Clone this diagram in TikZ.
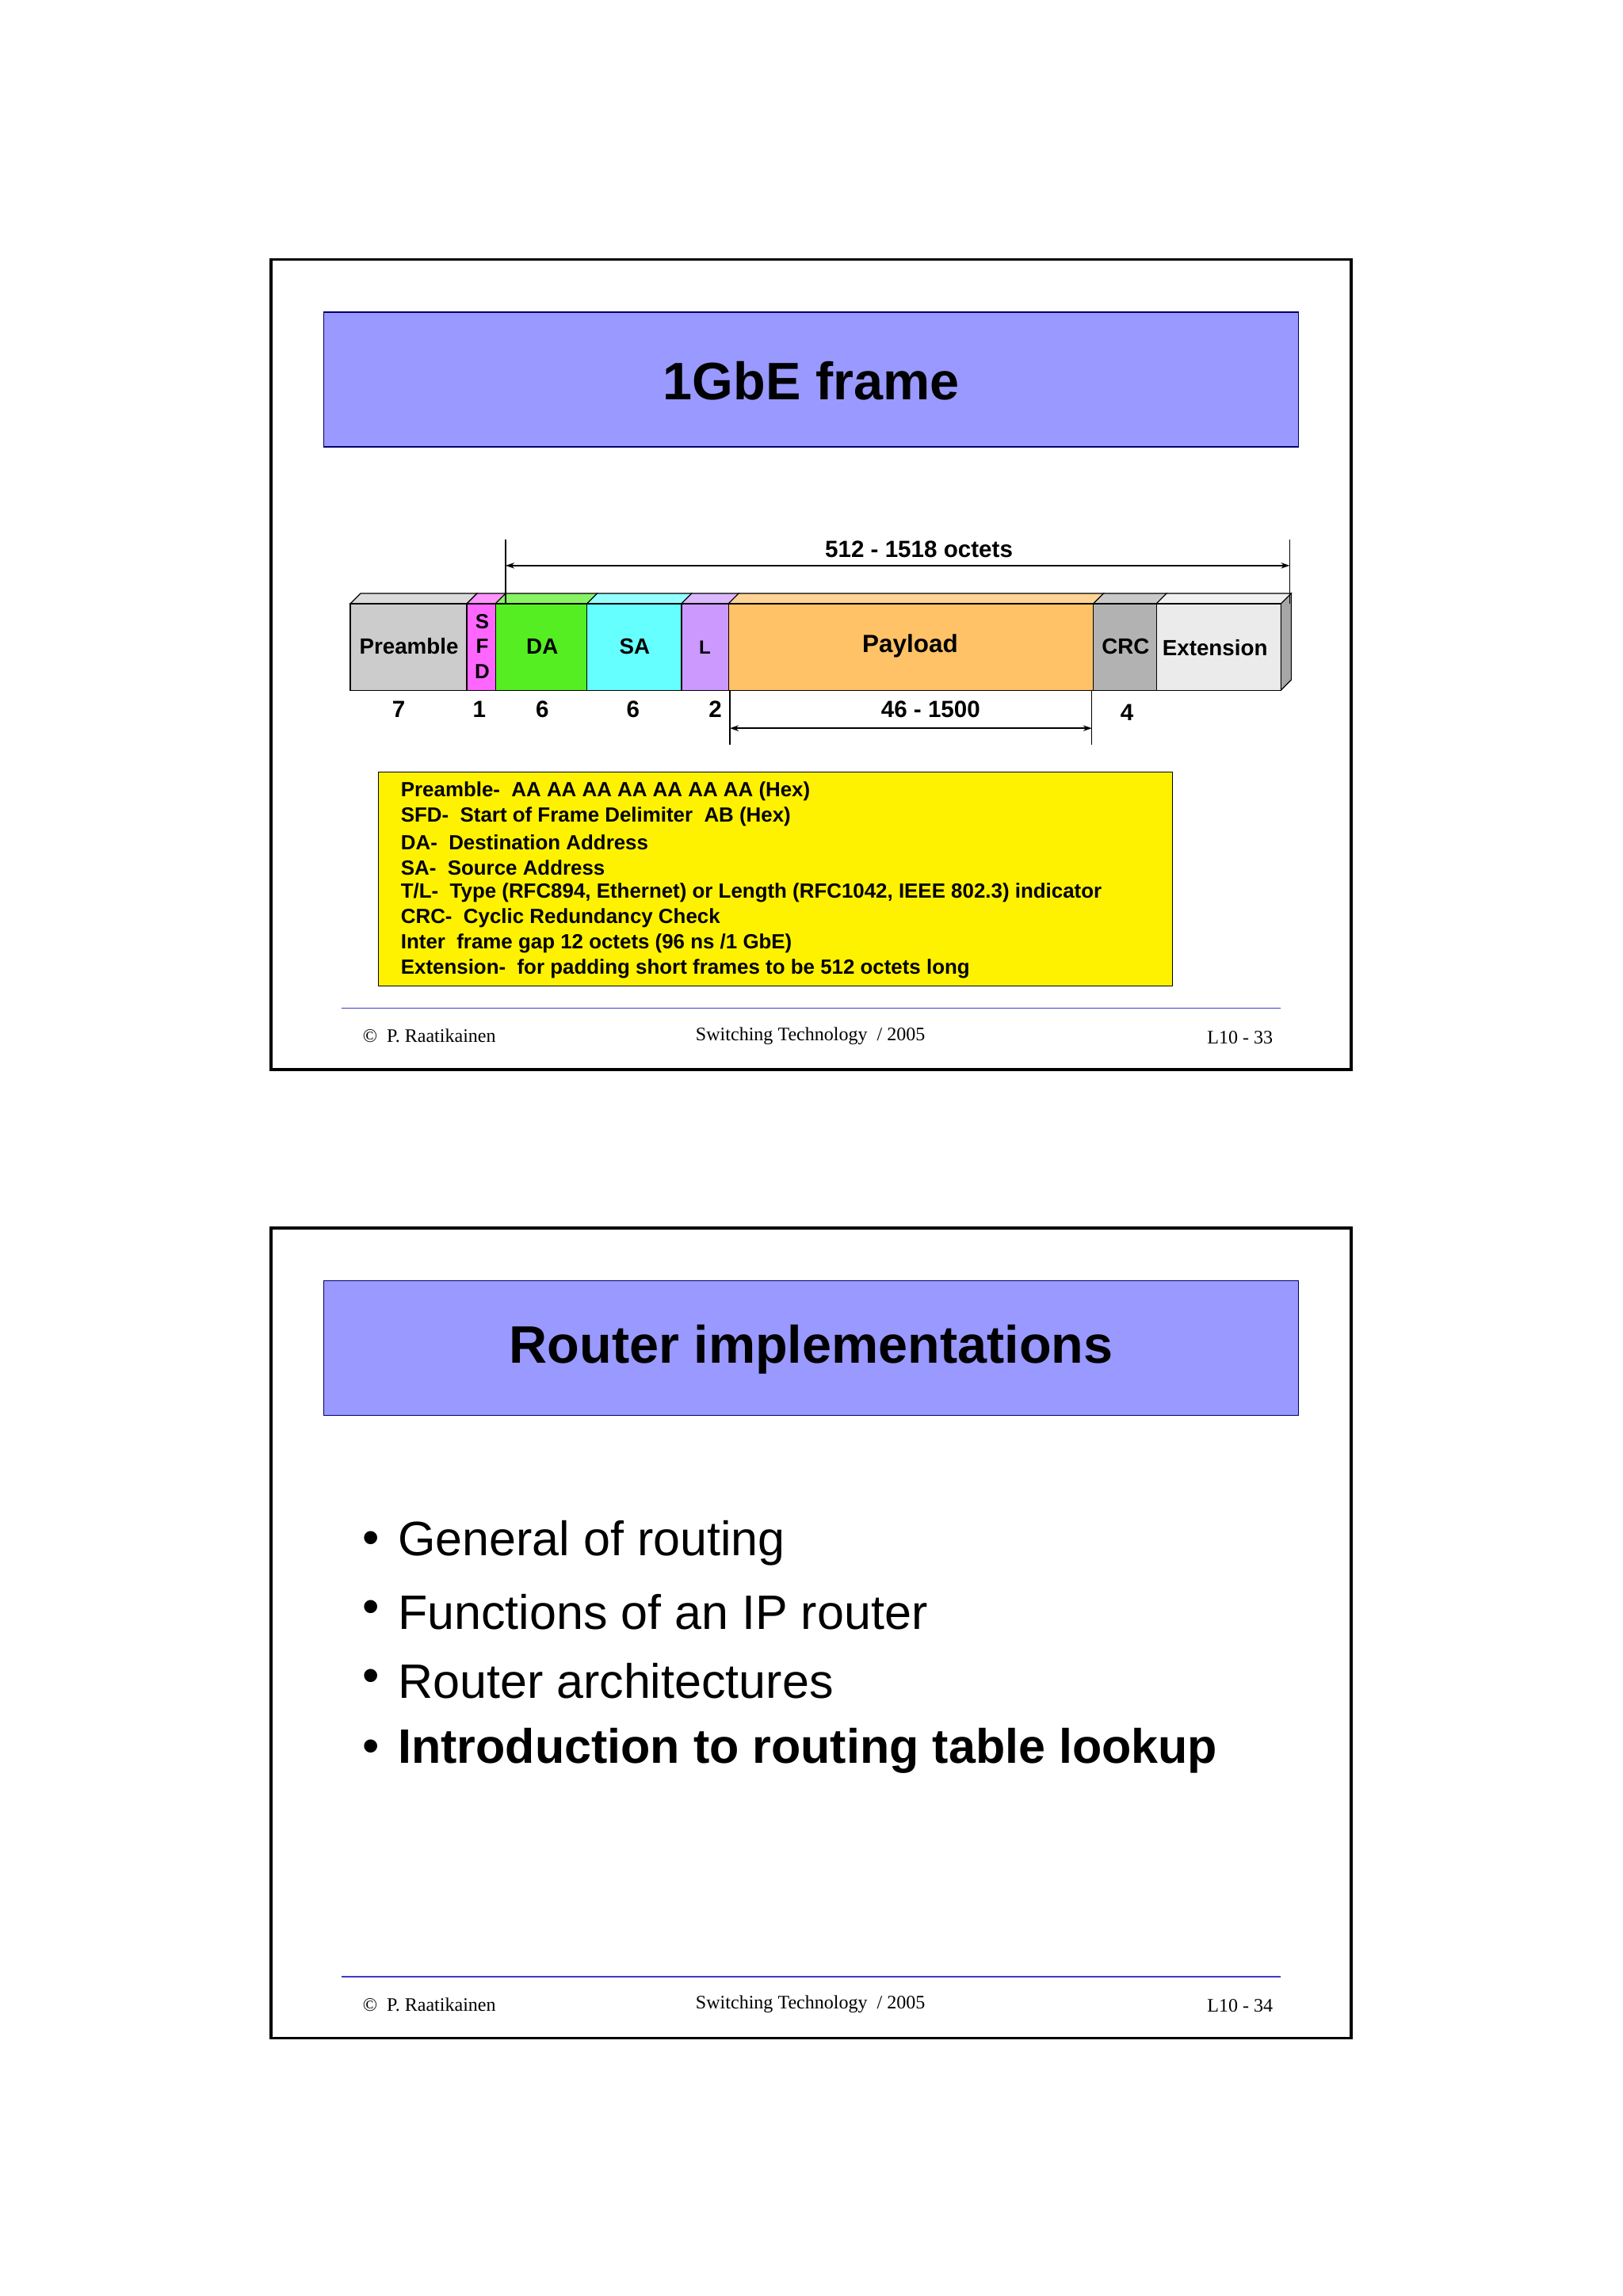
\documentclass[tikz,border=0pt]{standalone}
\usepackage{fontspec}
\setmainfont{Liberation Serif}
\setsansfont{Liberation Sans}
\usetikzlibrary{arrows.meta}
\definecolor{titleblue}{RGB}{153,153,255}
\definecolor{cPre}{RGB}{204,204,204}
\definecolor{cSFD}{RGB}{255,102,255}
\definecolor{cDA}{RGB}{85,238,34}
\definecolor{cSA}{RGB}{102,255,255}
\definecolor{cL}{RGB}{204,153,255}
\definecolor{cPay}{RGB}{255,194,102}
\definecolor{cCRC}{RGB}{178,178,178}
\definecolor{cExt}{RGB}{235,235,235}
\definecolor{footblue}{RGB}{60,60,200}
\tikzset{
  slideframe/.style={draw=black,line width=2pt},
  titlebox/.style={draw=black!60!blue,fill=titleblue,line width=0.8pt},
  titletext/.style={font=\sffamily\bfseries\fontsize{36}{40}\selectfont},
  fieldtxt/.style={font=\sffamily\bfseries\fontsize{15}{17}\selectfont},
  numtxt/.style={font=\sffamily\bfseries\fontsize{16}{18}\selectfont},
  dimarrow/.style={{Stealth[length=6pt,width=4pt]}-{Stealth[length=6pt,width=4pt]},line width=0.8pt},
  foottxt/.style={font=\fontsize{13}{15}\selectfont},
  legtxt/.style={font=\sffamily\bfseries\fontsize{14}{17}\selectfont,anchor=west},
  bullettxt/.style={font=\sffamily\fontsize{33}{38}\selectfont,anchor=west},
}
\begin{document}
\begin{tikzpicture}[x=1pt,y=-1pt]
\useasboundingbox[fill=white] (0,0) rectangle (1107,1567);
% ---------- Slide 1 ----------
\draw[slideframe] (185,177) rectangle (922,730);
\draw[titlebox] (221,213) rectangle (886,305);
\node[titletext] (t1) at (553.5,260) {1GbE frame};
% frame fields
\foreach \a/\b/\c in {239/318.5/cPre,318.5/338/cSFD,338/400.5/cDA,400.5/465/cSA,465/497/cL,497/746/cPay,746/789/cCRC,789/874/cExt}{
  \fill[\c!70!white,draw=black,line width=0.6pt] (\a,412) -- (\a+7,405) -- (\b+7,405) -- (\b,412) -- cycle;
  \fill[\c,draw=black,line width=0.6pt] (\a,412) rectangle (\b,471);
}
\fill[black!35,draw=black,line width=0.6pt] (874,412) -- (881,405) -- (881,464) -- (874,471) -- cycle;
\node[fieldtxt] (fPre) at (279,441) {Preamble};
\node[fieldtxt,align=center,font=\sffamily\bfseries\fontsize{14}{17}\selectfont] (fSFD) at (329,441) {S\\F\\D};
\node[fieldtxt] (fDA) at (370,441) {DA};
\node[fieldtxt] (fSA) at (433,441) {SA};
\node[fieldtxt,font=\sffamily\bfseries\fontsize{13}{15}\selectfont] (fL) at (481,442) {L};
\node[fieldtxt,font=\sffamily\bfseries\fontsize{17}{19}\selectfont] (fPay) at (621,441) {Payload};
\node[fieldtxt] (fCRC) at (768,441) {CRC};
\node[fieldtxt] (fExt) at (829,442) {Extension};
% dimensions
\coordinate (ta) at (345,386); \coordinate (tb) at (880,386);
\draw[line width=0.6pt] (345,368) -- (345,412) (880,368) -- (880,412);
\draw[dimarrow] (ta) -- (tb);
\node[numtxt] (lTop) at (627,375) {512 - 1518 octets};
\coordinate (ba) at (498,497); \coordinate (bb) at (745,497);
\draw[line width=0.6pt] (498,471) -- (498,508) (745,471) -- (745,508);
\draw[dimarrow] (ba) -- (bb);
\node[numtxt] (n1) at (272,484) {7};
\node[numtxt] (n2) at (327,484) {1};
\node[numtxt] (n3) at (370,484) {6};
\node[numtxt] (n4) at (432,484) {6};
\node[numtxt] (n5) at (488,484) {2};
\node[numtxt] (n6) at (635,484) {46 - 1500};
\node[numtxt] (n7) at (769,486) {4};
% legend
\draw[fill=yellow,line width=0.6pt] (258,527) rectangle (800,673);
\node[legtxt] (l1) at (270,540) {Preamble-\ \ AA AA AA AA AA AA AA (Hex)};
\node[legtxt] (l2) at (270,557.5) {SFD-\ \ Start of Frame Delimiter\ \ AB (Hex)};
\node[legtxt] (l3) at (270,575) {DA-\ \ Destination Address};
\node[legtxt] (l4) at (270,592) {SA-\ \ Source Address};
\node[legtxt] (l5) at (270,609.5) {T/L-\ \ Type (RFC894, Ethernet) or Length (RFC1042, IEEE 802.3) indicator};
\node[legtxt] (l6) at (270,626.5) {CRC-\ \ Cyclic Redundancy Check};
\node[legtxt] (l7) at (270,644) {Inter\ \ frame gap 12 octets (96 ns /1 GbE)};
\node[legtxt] (l8) at (270,661) {Extension-\ \ for padding short frames to be 512 octets long};
% footer
\draw[footblue,line width=0.8pt] (233,688) -- (874,688);
\node[foottxt,anchor=west] (fa1) at (244,707) {\textcopyright\ \ P. Raatikainen};
\node[foottxt] (fb1) at (553,707) {Switching Technology\ \ / 2005};
\node[foottxt,anchor=east] (fc1) at (872,708) {L10 - 33};
% ---------- Slide 2 ----------
\draw[slideframe] (185,838) rectangle (922,1391);
\draw[titlebox] (221,874) rectangle (886,966);
\node[titletext] (t2) at (553.5,921) {Router implementations};
\foreach \y/\t/\n in {1053/General of routing/b1,1100/Functions of an IP router/b2,1147/Router architectures/b3}{
  \node[bullettxt] (\n) at (268,\y) {\t};
  \node[bullettxt] at (244,\y) {\textbullet};
}
\node[bullettxt,font=\sffamily\bfseries\fontsize{33}{38}\selectfont] (b4) at (268,1195) {Introduction to routing table lookup};
\node[bullettxt] at (244,1195) {\textbullet};
\draw[footblue,line width=0.8pt] (233,1349) -- (874,1349);
\node[foottxt,anchor=west] (fa2) at (244,1368) {\textcopyright\ \ P. Raatikainen};
\node[foottxt] (fb2) at (553,1368) {Switching Technology\ \ / 2005};
\node[foottxt,anchor=east] (fc2) at (872,1369) {L10 - 34};
\end{tikzpicture}
\end{document}
